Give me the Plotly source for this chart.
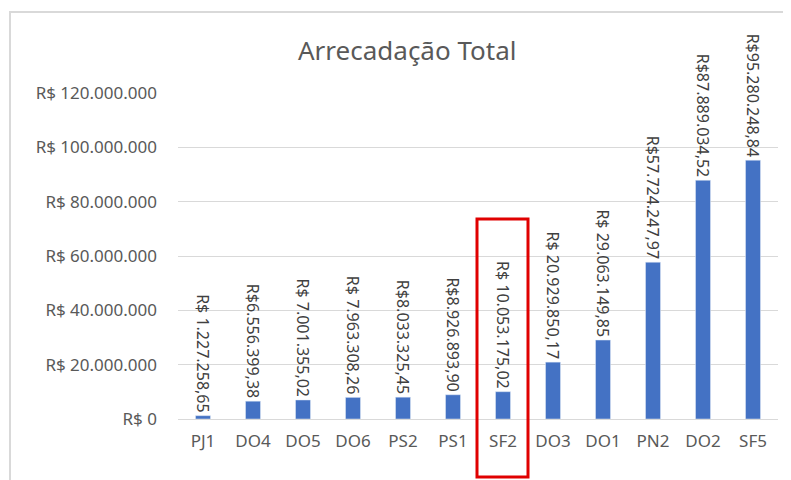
import plotly.graph_objects as go

categories = ["PJ1", "DO4", "DO5", "DO6", "PS2", "PS1", "SF2", "DO3", "DO1", "PN2", "DO2", "SF5"]
values = [1227258.65, 6556399.38, 7001355.02, 7963308.26, 8033325.45, 8926893.90,
          10053175.02, 20929850.17, 29063149.85, 57724247.97, 87889034.52, 95280248.84]
value_labels = ["R$ 1.227.258,65", "R$6.556.399,38", "R$ 7.001.355,02", "R$ 7.963.308,26",
                "R$8.033.325,45", "R$8.926.893,90", "R$ 10.053.175,02", "R$ 20.929.850,17",
                "R$ 29.063.149,85", "R$57.724.247,97", "R$87.889.034,52", "R$95.280.248,84"]
tick_vals = [0, 20000000, 40000000, 60000000, 80000000, 100000000, 120000000]
tick_text = ["R$ 0", "R$ 20.000.000", "R$ 40.000.000", "R$ 60.000.000",
             "R$ 80.000.000", "R$ 100.000.000", "R$ 120.000.000"]

OFF = 8  # page body margin
W, H = 791 - OFF, 480 - OFF
L, R, T, B = 178 - OFF, 13, 93 - OFF, 61
pw, ph = W - L - R, H - T - B

def px(x):
    return (x - OFF - L) / pw

def py(y):
    return (H - B - (y - OFF)) / ph

fig = go.Figure(go.Bar(
    x=categories, y=values, marker_color="#4472C4",
    text=value_labels, textposition="outside", textangle=90,
    textfont=dict(size=16, color="#404040", family="Noto Sans"),
    cliponaxis=False,
))

fig.update_layout(
    width=W, height=H,
    margin=dict(l=L, r=R, t=T, b=B),
    paper_bgcolor="white", plot_bgcolor="white",
    bargap=0.7,
    showlegend=False,
    uniformtext=dict(minsize=16, mode="show"),
    font=dict(family="Noto Sans", color="#595959"),
    xaxis=dict(showgrid=False, showline=True, linecolor="#d9d9d9", linewidth=1,
               tickfont=dict(size=17, color="#595959"), ticks="", ticklabelstandoff=7),
    yaxis=dict(range=[0, 120000000], tickvals=tick_vals, ticktext=tick_text,
               showgrid=True, gridcolor="#d9d9d9", gridwidth=1, zeroline=False,
               tickfont=dict(size=17, color="#595959"), ticks="", ticklabelstandoff=20),
    annotations=[dict(text="Arrecadação Total", x=px(407), y=py(50),
                      xref="paper", yref="paper", showarrow=False,
                      font=dict(size=26, color="#595959"),
                      xanchor="center", yanchor="middle")],
    shapes=[
        dict(type="rect", xref="paper", yref="paper",
             x0=px(10), x1=px(800), y0=py(490), y1=py(12),
             line=dict(color="#d9d9d9", width=2), layer="below"),
        dict(type="rect", xref="paper", yref="paper",
             x0=px(477), x1=px(528), y0=py(477), y1=py(219),
             line=dict(color="#e00000", width=3)),
    ],
)

fig.write_html("out.html")
